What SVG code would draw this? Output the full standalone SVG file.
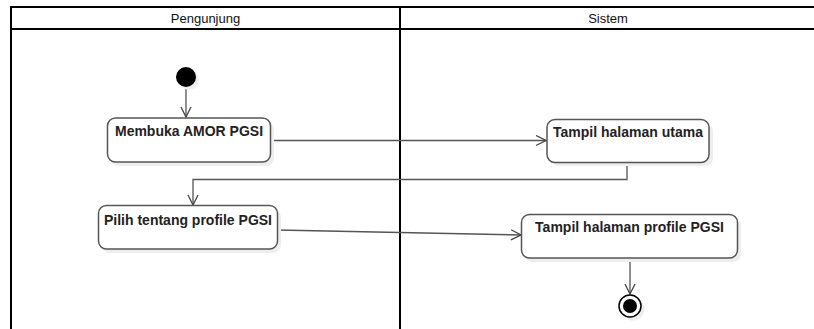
<svg xmlns="http://www.w3.org/2000/svg" width="814" height="329" viewBox="0 0 814 329">
<defs>
<style>
.lane{fill:none;stroke:#000;stroke-width:2}
.hdr{font-family:"Liberation Sans",Arial,sans-serif;font-size:13px;fill:#111;text-anchor:middle}
.act{fill:#fff;stroke:#555;stroke-width:1.5}
.shadow{fill:#eee;stroke:none}
.lbl{font-family:"Liberation Sans",Arial,sans-serif;font-size:14px;font-weight:bold;fill:#222;text-anchor:middle}
.edge{fill:none;stroke:#555;stroke-width:1.3}
</style>
<marker id="arr" markerWidth="12" markerHeight="12" viewBox="0 0 12 12" refX="11" refY="6" orient="auto" markerUnits="userSpaceOnUse">
<path d="M1,1 L11,6 L1,11" fill="none" stroke="#444" stroke-width="1.3"/>
</marker>
</defs>
<rect width="814" height="329" fill="#fff"/>
<g id="swimlanes">
<path class="lane" d="M11,329 V7 H816 M11,29 H816 M400,7 V329"/>
<text class="hdr" x="205.5" y="23">Pengunjung</text>
<text class="hdr" x="608" y="23">Sistem</text>
</g>
<g id="connectors">
<path class="edge" d="M186,87 V117" marker-end="url(#arr)"/>
<path class="edge" d="M271,140.5 H546" marker-end="url(#arr)"/>
<path class="edge" d="M627,163 V179.5 H193 V205" marker-end="url(#arr)"/>
<path class="edge" d="M277,230 L521,235" marker-end="url(#arr)"/>
<path class="edge" d="M630,258 V294" marker-end="url(#arr)"/>
</g>
<g id="start">
<circle class="shadow" cx="189" cy="80" r="10"/>
<circle cx="186" cy="77" r="10" fill="#000"/>
</g>
<g id="membuka">
<rect class="shadow" x="111" y="122" width="163" height="44" rx="8"/>
<rect class="act" x="107.5" y="118" width="163" height="44" rx="8"/>
<text class="lbl" x="189" y="136">Membuka AMOR PGSI</text>
</g>
<g id="tampil-utama">
<rect class="shadow" x="551" y="123" width="162" height="43" rx="8"/>
<rect class="act" x="547" y="119.5" width="162" height="43" rx="8"/>
<text class="lbl" x="628" y="137">Tampil halaman utama</text>
</g>
<g id="pilih-profile">
<rect class="shadow" x="102" y="209" width="179" height="44" rx="8"/>
<rect class="act" x="98.5" y="205.5" width="179" height="43.5" rx="8"/>
<text class="lbl" x="188" y="225">Pilih tentang profile PGSI</text>
</g>
<g id="tampil-profile">
<rect class="shadow" x="525" y="218" width="216" height="44" rx="8"/>
<rect class="act" x="521.5" y="214.5" width="216" height="43.5" rx="8"/>
<text class="lbl" x="629.5" y="232">Tampil halaman profile PGSI</text>
</g>
<g id="end">
<circle class="shadow" cx="633" cy="309" r="11.5"/>
<circle cx="630" cy="306" r="11" fill="#fff" stroke="#000" stroke-width="1.5"/>
<circle cx="630" cy="306" r="7" fill="#000"/>
</g>
</svg>
